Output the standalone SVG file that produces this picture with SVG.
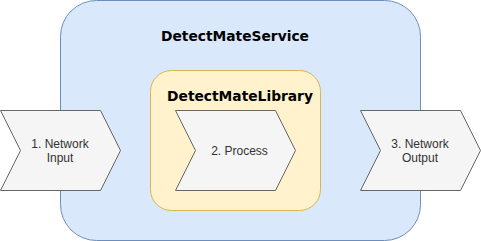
<svg xmlns="http://www.w3.org/2000/svg" width="481" height="241" viewBox="0 0 481 241">
<style>
.title{font-family:"DejaVu Sans",Verdana,sans-serif;font-weight:bold;font-size:13.8px;fill:#000;text-anchor:middle}
.lbl{font-family:"Liberation Sans",Arial,sans-serif;font-size:12px;fill:#333;text-anchor:middle}
.step{fill:#f5f5f5;stroke:#666666;stroke-width:1}
</style>
<rect width="481" height="241" fill="#ffffff"/>
<g id="service">
<rect x="60.5" y="0.5" width="360" height="240" rx="36" ry="36" fill="#dae8fc" stroke="#6c8ebf"/>
<text class="title" x="235" y="41">DetectMateService</text>
</g>
<g id="library">
<rect x="150.5" y="70.5" width="170" height="140" rx="21" ry="21" fill="#fff2cc" stroke="#d6b656"/>
<text class="title" x="240" y="101">DetectMateLibrary</text>
</g>
<g id="input">
<polygon class="step" points="0.5,110.5 100.5,110.5 120.5,150.5 100.5,190.5 0.5,190.5 20.5,150.5"/>
<text class="lbl" x="60" y="148">1. Network</text>
<text class="lbl" x="60" y="162">Input</text>
</g>
<g id="process">
<polygon class="step" points="175.5,110.5 275.5,110.5 295.5,150.5 275.5,190.5 175.5,190.5 195.5,150.5"/>
<text class="lbl" x="239.5" y="155">2. Process</text>
</g>
<g id="output">
<polygon class="step" points="360.5,110.5 460.5,110.5 480.5,150.5 460.5,190.5 360.5,190.5 380.5,150.5"/>
<text class="lbl" x="420" y="148">3. Network</text>
<text class="lbl" x="420" y="162">Output</text>
</g>
<g id="connectors"></g>
</svg>
